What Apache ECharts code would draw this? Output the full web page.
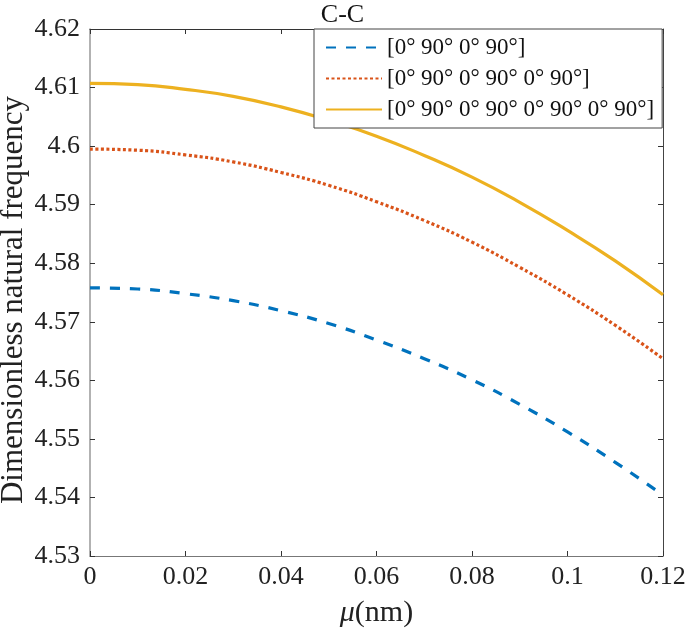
<!DOCTYPE html>
<html>
<head>
<meta charset="utf-8">
<script src="https://cdn.jsdelivr.net/npm/echarts@6/dist/echarts.min.js"></script>
<style>html,body{margin:0;padding:0;background:#fff}#c{width:685px;height:631px}</style>
</head>
<body>
<div id="c"></div>
<script>
const mu = [0, 0.01, 0.02, 0.03, 0.04, 0.05, 0.06, 0.07, 0.08, 0.09, 0.10, 0.11, 0.12];
const layup4 = [4.5758, 4.5756, 4.5748, 4.5736, 4.5719, 4.5697, 4.5669, 4.5637, 4.5601, 4.5559, 4.5512, 4.5460, 4.5404];
const layup6 = [4.5995, 4.5993, 4.5985, 4.5973, 4.5955, 4.5933, 4.5905, 4.5873, 4.5836, 4.5793, 4.5746, 4.5694, 4.5637];
const layup8 = [4.6107, 4.6105, 4.6097, 4.6085, 4.6067, 4.6044, 4.6017, 4.5984, 4.5947, 4.5904, 4.5856, 4.5804, 4.5746];
const seriesNames = ['[0° 90° 0° 90°]', '[0° 90° 0° 90° 0° 90°]', '[0° 90° 0° 90° 0° 90° 0° 90°]'];
const xTicks = [0, 0.02, 0.04, 0.06, 0.08, 0.1, 0.12];
const yTicks = [4.53, 4.54, 4.55, 4.56, 4.57, 4.58, 4.59, 4.6, 4.61, 4.62];
const yTitle = 'Dimensionless natural frequency';

const FONT = '"Liberation Serif", "Times New Roman", Times, serif';
const axisCol = '#777';
const chart = echarts.init(document.getElementById('c'), null, {renderer: 'canvas'});
const pair = a => mu.map((m, i) => [m, a[i]]);
const baseX = {
  type: 'value', min: 0, max: 0.12, interval: 0.02,
  axisLine: {show: true, onZero: false, lineStyle: {color: axisCol, width: 1}},
  axisTick: {show: true, inside: true, length: 5, lineStyle: {color: '#333'}},
  splitLine: {show: false}
};
const baseY = {
  type: 'value', min: 4.53, max: 4.62, interval: 0.01,
  axisLine: {show: true, onZero: false, lineStyle: {color: '#999', width: 1.5}},
  axisTick: {show: true, inside: true, length: 5, lineStyle: {color: '#333'}},
  splitLine: {show: false}
};
chart.setOption({
  animation: false,
  backgroundColor: '#fff',
  title: {text: 'C-C', left: 'center', top: -3, textStyle: {fontFamily: FONT, fontWeight: 'normal', fontSize: 26, color: '#111'}},
  grid: {left: 90, right: 22, top: 29, bottom: 75, containLabel: false, outerBoundsMode: 'none'},
  legend: {
    data: seriesNames, orient: 'vertical', left: 314, top: 29,
    itemWidth: 56, itemHeight: 14, itemGap: 6,
    padding: [6, 8, 6, 11],
    borderColor: '#444', borderWidth: 1, backgroundColor: '#fff',
    itemStyle: {opacity: 0, borderWidth: 0},
    textStyle: {fontFamily: FONT, fontSize: 23, color: '#111', lineHeight: 25}
  },
  graphic: [{
    type: 'text', x: 14, y: 300, rotation: Math.PI / 2,
    style: {text: yTitle, fontFamily: FONT, fontSize: 31, fill: '#222', align: 'center', verticalAlign: 'middle'}
  }],
  xAxis: [
    Object.assign({}, baseX, {
      position: 'bottom',
      axisLabel: {fontFamily: FONT, fontSize: 26, color: '#222', margin: 8,
        formatter: v => xTicks.includes(Math.round(v * 100) / 100) ? String(Math.round(v * 100) / 100) : ''},
      name: '{i|μ}(nm)', nameLocation: 'middle', nameGap: 42,
      nameTextStyle: {fontFamily: FONT, fontSize: 30, color: '#222',
        rich: {i: {fontFamily: FONT, fontStyle: 'italic', fontSize: 30, color: '#222'}}}
    }),
    Object.assign({}, baseX, {position: 'top', axisLabel: {show: false}, axisLine: {show: true, onZero: false, lineStyle: {color: '#333'}}})
  ],
  yAxis: [
    Object.assign({}, baseY, {
      position: 'left',
      axisLabel: {fontFamily: FONT, fontSize: 26, color: '#222', margin: 10,
        formatter: v => { const r = Math.round(v * 100) / 100; return yTicks.includes(r) ? String(r) : ''; }}
    }),
    Object.assign({}, baseY, {position: 'right', axisLabel: {show: false}, axisLine: {show: true, onZero: false, lineStyle: {color: '#444', width: 1}}})
  ],
  series: [
    {name: seriesNames[0], type: 'line', data: pair(layup4), smooth: true, showSymbol: false, symbol: 'none',
      lineStyle: {color: '#0072BD', width: 3.2, type: [10, 10]}, itemStyle: {color: '#0072BD'}},
    {name: seriesNames[1], type: 'line', data: pair(layup6), smooth: true, showSymbol: false, symbol: 'none',
      lineStyle: {color: '#D95319', width: 3.2, type: [3, 2.5]}, itemStyle: {color: '#D95319'}},
    {name: seriesNames[2], type: 'line', data: pair(layup8), smooth: true, showSymbol: false, symbol: 'none',
      lineStyle: {color: '#EDB120', width: 3.2, type: 'solid'}, itemStyle: {color: '#EDB120'}}
  ]
});
</script>
</body>
</html>
